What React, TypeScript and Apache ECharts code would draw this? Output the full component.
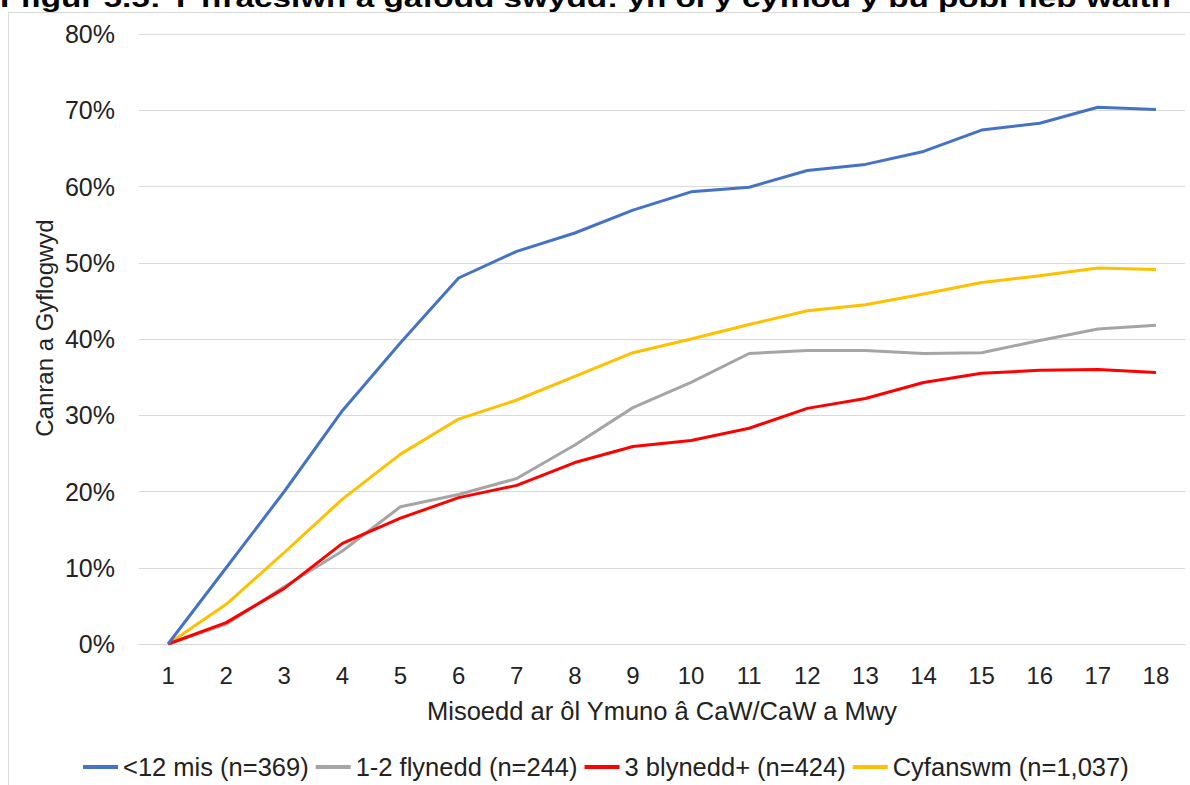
import React, { useEffect, useRef } from "react";
import * as echarts from "echarts";

const months = ["1", "2", "3", "4", "5", "6", "7", "8", "9", "10", "11", "12", "13", "14", "15", "16", "17", "18"];
const under12 = [0, 10.0, 20.0, 30.6, 39.5, 48.0, 51.5, 53.9, 56.9, 59.3, 59.9, 62.1, 62.9, 64.6, 67.4, 68.3, 70.4, 70.1];
const years12 = [0, 2.6, 7.5, 12.2, 18.0, 19.6, 21.7, 26.1, 31.0, 34.3, 38.1, 38.5, 38.5, 38.1, 38.2, 39.8, 41.3, 41.8];
const years3 = [0, 2.8, 7.3, 13.2, 16.5, 19.2, 20.8, 23.8, 25.9, 26.7, 28.3, 30.9, 32.2, 34.3, 35.5, 35.9, 36.0, 35.6];
const total = [0, 5.2, 12.0, 19.0, 24.9, 29.5, 32.0, 35.1, 38.2, 40.0, 41.9, 43.7, 44.5, 45.9, 47.4, 48.3, 49.3, 49.1];
const seriesNames = ["<12 mis (n=369)", "1-2 flynedd (n=244)", "3 blynedd+ (n=424)", "Cyfanswm (n=1,037)"];
const seriesColors = ["#4472C4", "#A5A5A5", "#FF0000", "#FFC000"];
const titleText = "Ffigur 5.5: Y ffracsiwn a gafodd swydd: yn ôl y cyfnod y bu pobl heb waith";
const xAxisTitle = "Misoedd ar ôl Ymuno â CaW/CaW a Mwy";
const yAxisTitle = "Canran a Gyflogwyd";

const FONT = "Liberation Sans, Arial, sans-serif";

export default function App() {
  const ref = useRef<HTMLDivElement>(null);
  useEffect(() => {
    if (!ref.current) return;
    const chart = echarts.init(ref.current, undefined, { renderer: "svg" });
    const seriesData = [under12, years12, years3, total];
    chart.setOption({
      animation: false,
      backgroundColor: "#ffffff",
      textStyle: { fontFamily: FONT },
      grid: { left: 139, right: 5, top: 34, bottom: 141, containLabel: false },
      graphic: [
        {
          type: "rect",
          shape: { x: 8.5, y: 12.5, width: 1400, height: 1000 },
          style: { fill: "none", stroke: "#d9d9d9", lineWidth: 1 },
          silent: true,
        },
        {
          type: "text",
          x: 0,
          y: -2,
          scaleX: 1.28,
          style: {
            text: titleText,
            font: `bold 26px ${FONT}`,
            fill: "#000000",
            align: "left",
            verticalAlign: "middle",
          },
        },
        {
          type: "text",
          x: 44,
          y: 328,
          rotation: Math.PI / 2,
          style: {
            text: yAxisTitle,
            font: `24px ${FONT}`,
            fill: "#222222",
            align: "center",
            verticalAlign: "middle",
          },
        },
      ],
      legend: {
        left: 78,
        top: 749,
        icon: "rect",
        itemWidth: 35,
        itemHeight: 4,
        itemGap: 7,
        textStyle: { fontSize: 25.5, color: "#222222", fontFamily: FONT },
        data: seriesNames,
      },
      xAxis: {
        type: "category",
        data: months,
        boundaryGap: true,
        name: xAxisTitle,
        nameLocation: "middle",
        nameGap: 54,
        nameTextStyle: { fontSize: 25.5, color: "#222222", fontFamily: FONT },
        axisLine: { show: true, lineStyle: { color: "#d9d9d9", width: 1 } },
        axisTick: { show: false },
        axisLabel: { fontSize: 24, color: "#222222", margin: 19, fontFamily: FONT },
      },
      yAxis: {
        type: "value",
        min: 0,
        max: 80,
        interval: 10,
        axisLine: { show: false },
        axisTick: { show: false },
        axisLabel: { fontSize: 25, color: "#222222", margin: 24, formatter: "{value}%", fontFamily: FONT },
        splitLine: { show: true, lineStyle: { color: "#d9d9d9", width: 1 } },
      },
      series: seriesNames.map((name, i) => ({
        name,
        type: "line",
        data: seriesData[i],
        symbol: "none",
        lineStyle: { color: seriesColors[i], width: 3 },
        itemStyle: { color: seriesColors[i] },
        z: i === 0 ? 5 : i === 2 ? 4 : 3,
      })),
    });
    return () => chart.dispose();
  }, []);
  return (
    <div
      ref={ref}
      style={{ position: "fixed", left: 0, top: 0, width: 1190, height: 785, background: "#fff" }}
    />
  );
}
